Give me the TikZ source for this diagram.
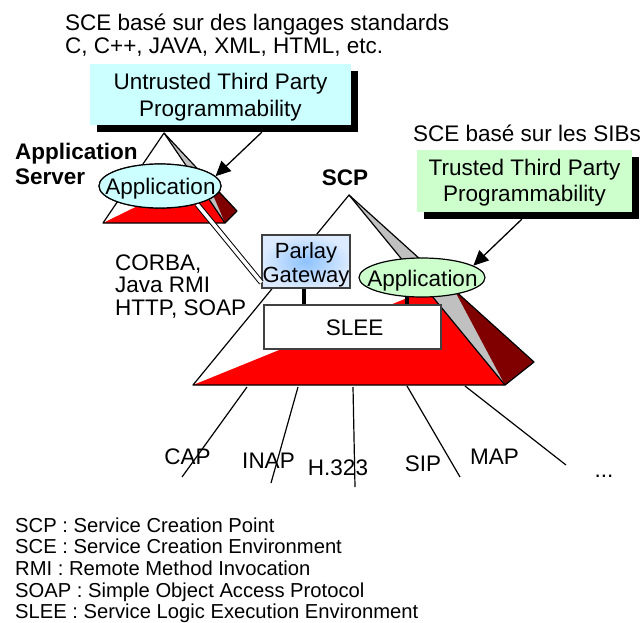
\documentclass[tikz,border=0pt]{standalone}
\usepackage{fontspec}
\setmainfont{Liberation Sans}
\usetikzlibrary{shadows,arrows.meta,calc,shapes.geometric}

\definecolor{boxcyan}{HTML}{CCFFFF}
\definecolor{boxgreen}{HTML}{CCFFCC}
\definecolor{pyrred}{HTML}{FF0000}
\definecolor{pyrdark}{HTML}{800000}
\definecolor{pyrgray}{HTML}{C0C0C0}
\definecolor{parlayin}{HTML}{8EC2FF}
\definecolor{parlayout}{HTML}{DCEBFF}

\tikzset{
  lbl/.style={font=\fontsize{22.5}{27}\selectfont, inner sep=0pt, anchor=base},
  lblw/.style={lbl, anchor=base west},
  lblb/.style={lblw, font=\fontsize{22.5}{27}\selectfont\bfseries},
  legend/.style={font=\fontsize{20.2}{22}\selectfont, inner sep=0pt, anchor=base west},
  progbox/.style={rectangle, inner sep=0pt, draw=none,
    drop shadow={shadow xshift=7pt, shadow yshift=-7pt, fill=black, opacity=1}},
  appell/.style={ellipse, draw=black, line width=1.2pt, inner sep=0pt},
  platebox/.style={rectangle, draw=black!75, line width=1.2pt, inner sep=0pt},
  pyredge/.style={line width=1.2pt, line join=round},
  linkbar/.style={line width=4.5pt},
  callout/.style={line width=1.3pt, -{Triangle[length=15pt,width=14pt]}},
  proto/.style={line width=1.2pt},
}

% A pyramid given by its apex (a), front-left (l), front-right (f)
% and back-right (b) corners, sharing the prefix #1.
\newcommand\drawpyramid[1]{%
  \fill[pyrgray] (#1a) -- (#1f) -- (#1b) -- cycle;
  \fill[pyrdark] ($(#1a)!0.57!(#1b)$) -- (#1b) -- (#1f) -- cycle;
  \fill[white] (#1a) -- (#1l) -- (#1f) -- cycle;
  \fill[pyrred] (#1l) -- (#1f) -- ($(#1a)!0.5!(#1f)$) -- cycle;
  \draw[pyredge] (#1a) -- (#1l) -- (#1f) -- cycle;
  \draw[pyredge] (#1a) -- (#1b) -- (#1f);
}

\begin{document}
\begin{tikzpicture}[x=1pt,y=-1pt]
\useasboundingbox (0,0) rectangle (644,622);

% ---- headings
\node[lblw] (sceA) at (65,30) {SCE basé sur des langages standards};
\node[lblw] (sceB) at (65,53.5) {C, C++, JAVA, XML, HTML, etc.};
\node[lblw] (sceC) at (413,141) {SCE basé sur les SIBs};

% ---- programmability boxes
\node[progbox, fill=boxcyan, minimum width=261pt, minimum height=61pt] (utp) at (220.5,94.5) {};
\node[lbl] (utpA) at (220.5,89.5) {Untrusted Third Party};
\node[lbl] (utpB) at (220.5,116.7) {Programmability};

\node[progbox, fill=boxgreen, minimum width=215pt, minimum height=62pt] (tpp) at (524.5,181) {};
\node[lbl] (tppA) at (524.5,175) {Trusted Third Party};
\node[lbl] (tppB) at (524.5,201.7) {Programmability};

% ---- application server
\coordinate (sa) at (164,133);
\coordinate (sl) at (103,223);
\coordinate (sf) at (225,223);
\coordinate (sb) at (237,211);
\drawpyramid{s}

\node[lblb] (asA) at (15,159) {Application};
\node[lblb] (asB) at (15,184) {Server};

% ---- SCP
\coordinate (ba) at (349,195);
\coordinate (bl) at (193,385);
\coordinate (bf) at (505,385);
\coordinate (bb) at (534,362);
\drawpyramid{b}

\node[lblb, anchor=base] (scp) at (345,185) {SCP};

\node[platebox, fill=white, minimum width=177pt, minimum height=44pt] (slee) at (352.5,327) {};
\node[lbl] (sleeT) at (354.7,335) {SLEE};

\node[platebox, shading=radial, inner color=parlayin, outer color=parlayout,
      minimum width=88pt, minimum height=53pt] (pg) at (306,261.5) {};
\node[lbl, font=\fontsize{22}{24}\selectfont] (pgA) at (306,258.3) {Parlay};
\node[lbl, font=\fontsize{22}{24}\selectfont] (pgB) at (306,282.7) {Gateway};

% links from the gateway and the SCP application down to the SLEE
\draw[linkbar] ([xshift=-2pt]pg.south) -- ([xshift=-2pt]pg.south |- slee.north);
\coordinate (appfoot) at (407,290);
\draw[linkbar] (appfoot) -- (appfoot |- slee.north);

\node[appell, fill=boxgreen, minimum width=126pt, minimum height=39pt] (app2) at (422,277.5) {};
\node[lbl] (app2T) at (422.5,286.7) {Application};

% ---- remote access from the application server to the gateway
\node[appell, fill=boxcyan, minimum width=122pt, minimum height=44pt] (app1) at (160,186) {};
\draw[line width=1pt, double=white, double distance=3.5pt]
  (app1.-26) -- ($(pg.south west)+(0,-6)$);
\node[appell, fill=boxcyan, minimum width=122pt, minimum height=44pt] (app1top) at (160,186) {};
\node[lbl] (app1T) at (160.5,194) {Application};

\node[lblw] (protA) at (115,270) {CORBA,};
\node[lblw] (protB) at (115,292.5) {Java RMI};
\node[lblw] (protC) at (115,315.5) {HTTP, SOAP};

% ---- callouts
\coordinate (utpfoot) at ($(utp.south west)+(172,7)$);
\draw[callout] (utpfoot) -- (app1top.10);
\coordinate (tppfoot) at ($(tpp.south west)+(105,7)$);
\draw[callout] (tppfoot) -- (app2.13);

% ---- network protocols below the SCP
\coordinate (p1s) at (247,387); \coordinate (p1e) at (182,477);
\coordinate (p2s) at (298,387); \coordinate (p2e) at (271,483);
\coordinate (p3s) at (353,387); \coordinate (p3e) at (355,487);
\coordinate (p4s) at (407,386); \coordinate (p4e) at (460,477);
\coordinate (p5s) at (465,386); \coordinate (p5e) at (566,465);
\foreach \i in {1,...,5} \draw[proto] (p\i s) -- (p\i e);

\node[lbl] (cap)  at (187.5,464) {CAP};
\node[lbl] (inap) at (268.5,468.3) {INAP};
\node[lbl] (h323) at (338,475) {H.323};
\node[lbl] (sip)  at (423,471.7) {SIP};
\node[lbl] (map)  at (494.5,464) {MAP};
\node[lbl] (more) at (604,477) {...};

% ---- glossary
\node[legend] (gA) at (15,532.3) {SCP : Service Creation Point};
\node[legend] (gB) at (15,553.9) {SCE : Service Creation Environment};
\node[legend] (gC) at (15,575.5) {RMI : Remote Method Invocation};
\node[legend] (gD) at (15,597.1) {SOAP : Simple Object Access Protocol};
\node[legend] (gE) at (15,618.7) {SLEE : Service Logic Execution Environment};
\end{tikzpicture}
\end{document}
